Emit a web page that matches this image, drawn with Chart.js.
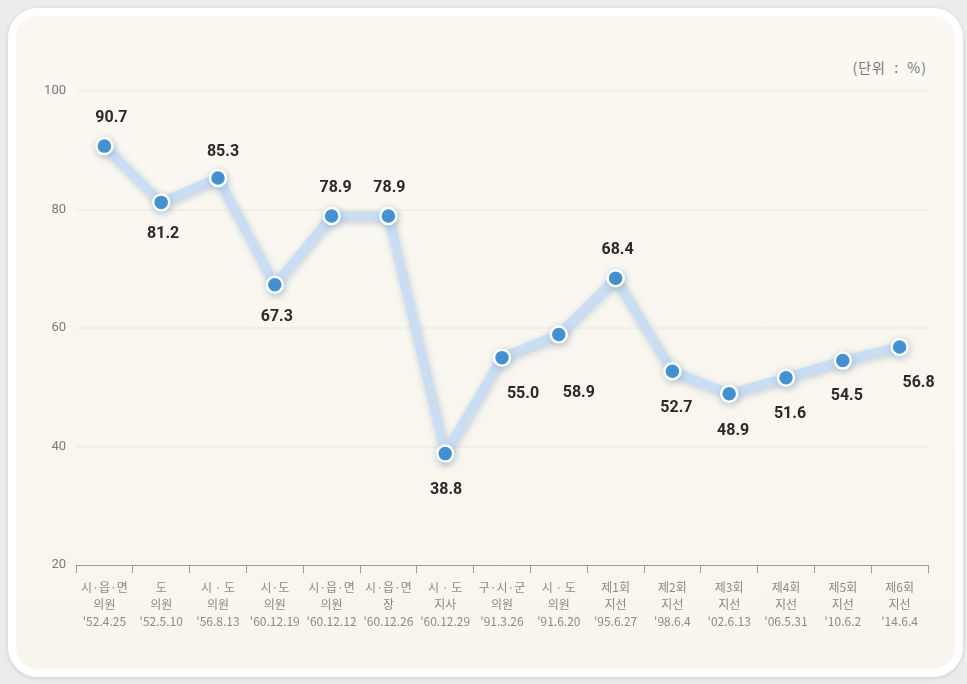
<!DOCTYPE html>
<html>
<head>
<meta charset="utf-8">
<script src="https://cdn.jsdelivr.net/npm/chart.js@4"></script>
<style>
  html, body { margin: 0; padding: 0; }
  body { width: 967px; height: 684px; background: #ececec; position: relative; overflow: hidden; }
  #card {
    position: absolute; left: 8px; top: 8px; width: 939px; height: 653px;
    border: 8px solid #fff; border-radius: 30px;
    background: linear-gradient(180deg, #faf8f1 0%, #f8f5ec 100%);
    box-shadow: 0 1px 4px rgba(0,0,0,0.15);
  }
  #unit {
    position: absolute; right: 40px; top: 57px;
    font: 14px "Noto Sans CJK KR", sans-serif; color: #777; letter-spacing: 1px;
  }
  #myChart { position: absolute; left: 0; top: 0; }
</style>
</head>
<body>
<div id="card"></div>
<div id="unit">(단위 &nbsp;:&nbsp; %)</div>
<canvas id="myChart" width="967" height="684"></canvas>
<script>
// 지방선거 투표율 (%)
const line1 = ['시·읍·면', '도', '시 · 도', '시·도', '시·읍·면', '시·읍·면', '시 · 도', '구·시·군', '시 · 도', '제1회', '제2회', '제3회', '제4회', '제5회', '제6회'];
const line2 = ['의원', '의원', '의원', '의원', '의원', '장', '지사', '의원', '의원', '지선', '지선', '지선', '지선', '지선', '지선'];
const dates = ["'52.4.25", "'52.5.10", "'56.8.13", "'60.12.19", "'60.12.12", "'60.12.26", "'60.12.29", "'91.3.26", "'91.6.20", "'95.6.27", "'98.6.4", "'02.6.13", "'06.5.31", "'10.6.2", "'14.6.4"];
const turnout = [90.7, 81.2, 85.3, 67.3, 78.9, 78.9, 38.8, 55.0, 58.9, 68.4, 52.7, 48.9, 51.6, 54.5, 56.8];
const yTicks = [20, 40, 60, 80, 100];

// label offsets from the point (px)
const labelOffset = [
    [7, -28], [2, 32], [5, -26], [2, 32], [4, -28], [1, -28], [1, 36], [21, 36],
    [20, 58], [2, -28], [4, 37], [4, 37], [4, 36], [4, 35], [19, 36]
];

const labels = line1.map((l, i) => [l, line2[i], dates[i]]);

const shadowPlugin = {
    id: 'shadowPlugin',
    beforeDatasetDraw(chart) {
        const ctx = chart.ctx;
        ctx.save();
        ctx.shadowColor = 'rgba(120,150,190,0.45)';
        ctx.shadowBlur = 7;
        ctx.shadowOffsetX = 1;
        ctx.shadowOffsetY = 2;
    },
    afterDatasetDraw(chart) {
        chart.ctx.restore();
    }
};

const valueLabels = {
    id: 'valueLabels',
    afterDatasetsDraw(chart) {
        const ctx = chart.ctx;
        const meta = chart.getDatasetMeta(0);
        ctx.save();
        ctx.font = 'bold 16px Roboto, "DejaVu Sans", sans-serif';
        ctx.fillStyle = '#2a2a2a';
        ctx.textAlign = 'center';
        ctx.textBaseline = 'middle';
        meta.data.forEach((pt, i) => {
            const off = labelOffset[i];
            ctx.fillText(turnout[i].toFixed(1), pt.x + off[0], pt.y + off[1]);
        });
        ctx.restore();
    }
};

const ctx = document.getElementById('myChart').getContext('2d');
const chart = new Chart(ctx, {
    type: 'line',
    data: {
        labels: labels,
        datasets: [{
            data: turnout,
            borderColor: 'rgba(200,221,243,0.95)',
            borderWidth: 9,
            tension: 0,
            pointRadius: 8,
            pointHoverRadius: 8,
            pointBackgroundColor: '#3f90d3',
            pointBorderColor: '#ffffff',
            pointBorderWidth: 2.5
        }]
    },
    options: {
        responsive: false,
        animation: false,
        events: [],
        layout: { padding: { left: 16, right: 39, top: 91, bottom: 30 } },
        plugins: { legend: { display: false }, tooltip: { enabled: false } },
        scales: {
            x: {
                offset: true,
                grid: { drawOnChartArea: false, drawTicks: true, tickLength: 8, color: '#9a9a9a', offset: true },
                border: { display: true, color: '#9a9a9a', width: 1 },
                ticks: {
                    autoSkip: false, maxRotation: 0, padding: 6,
                    color: '#8a8a8a',
                    font: { family: '"Noto Sans CJK KR", sans-serif', size: 12, lineHeight: 1.4 }
                },
                afterFit: s => { s.height = 89; }
            },
            y: {
                min: 20, max: 100,
                afterBuildTicks: s => { s.ticks = yTicks.map(v => ({ value: v })); },
                grid: {
                    drawTicks: false,
                    color: c => c.tick.value === 20 ? 'rgba(0,0,0,0)' : 'rgba(0,0,0,0.03)',
                    lineWidth: 2
                },
                border: { display: false },
                ticks: {
                    padding: 10, color: '#7a7a7a',
                    font: { family: 'Roboto, sans-serif', size: 13 }
                },
                afterFit: s => { s.width = 60; }
            }
        }
    },
    plugins: [shadowPlugin, valueLabels]
});
</script>
</body>
</html>
